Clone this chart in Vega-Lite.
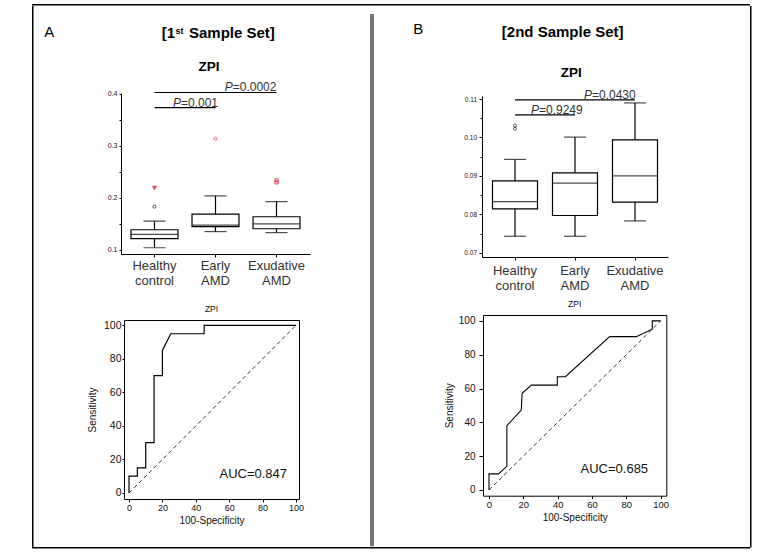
{
"$schema": "https://vega.github.io/schema/vega-lite/v6.json",
"background": "white",
"padding": {"left": 32, "top": 4, "right": 0, "bottom": 0},
"config": {
  "font": "Liberation Sans",
  "view": {"stroke": null},
  "axis": {"grid": false, "domainColor": "#000", "tickColor": "#000", "labelColor": "#111", "titleColor": "#111", "titleFontWeight": "normal", "labelOverlap": false}
},
"datasets": {
  "boxA": [
    {"group": "Healthy control", "lo": 0.104, "q1": 0.1215, "med": 0.1295, "q3": 0.1385, "hi": 0.155},
    {"group": "Early AMD", "lo": 0.135, "q1": 0.1445, "med": 0.1475, "q3": 0.1685, "hi": 0.2035},
    {"group": "Exudative AMD", "lo": 0.133, "q1": 0.1405, "med": 0.150, "q3": 0.1635, "hi": 0.1925}
  ],
  "boxB": [
    {"group": "Healthy control", "lo": 0.0743, "q1": 0.0814, "med": 0.0833, "q3": 0.0887, "hi": 0.0943},
    {"group": "Early AMD", "lo": 0.0743, "q1": 0.0797, "med": 0.0881, "q3": 0.0908, "hi": 0.1001},
    {"group": "Exudative AMD", "lo": 0.0783, "q1": 0.0832, "med": 0.0900, "q3": 0.0994, "hi": 0.1090}
  ],
  "rocA": [
    {"fpr": 0, "tpr": 0}, {"fpr": 0, "tpr": 10}, {"fpr": 5, "tpr": 10}, {"fpr": 5, "tpr": 15},
    {"fpr": 10, "tpr": 15}, {"fpr": 10, "tpr": 30}, {"fpr": 15, "tpr": 30}, {"fpr": 15, "tpr": 70},
    {"fpr": 20, "tpr": 70}, {"fpr": 20, "tpr": 85}, {"fpr": 25, "tpr": 95}, {"fpr": 45, "tpr": 95},
    {"fpr": 45, "tpr": 100}, {"fpr": 100, "tpr": 100}
  ],
  "rocB": [
    {"fpr": 0, "tpr": 0}, {"fpr": 0, "tpr": 9.5}, {"fpr": 5.5, "tpr": 9.5}, {"fpr": 10.4, "tpr": 14},
    {"fpr": 10.4, "tpr": 38}, {"fpr": 18.8, "tpr": 47.3}, {"fpr": 19.3, "tpr": 57.2}, {"fpr": 24.7, "tpr": 62},
    {"fpr": 39.8, "tpr": 62}, {"fpr": 39.8, "tpr": 67}, {"fpr": 44.5, "tpr": 67}, {"fpr": 70.3, "tpr": 90.7},
    {"fpr": 85.8, "tpr": 90.7}, {"fpr": 95.1, "tpr": 95.1}, {"fpr": 95.1, "tpr": 100}, {"fpr": 100, "tpr": 100}
  ],
  "diag": [{"fpr": 0, "tpr": 0}, {"fpr": 100, "tpr": 100}]
},
"bounds": "flush",
"spacing": 0,
"vconcat": [
  {"width": 718, "height": 1.5, "view": {"fill": "#000", "stroke": null}, "data": {"values": []}, "mark": "text"},
  {"bounds": "flush", "spacing": 0, "hconcat": [
    {"width": 1.5, "height": 541.5, "view": {"fill": "#000", "stroke": null}, "data": {"values": []}, "mark": "text"},
    {"width": 86.5, "height": 10, "data": {"values": []}, "mark": "text"},
    {"bounds": "flush", "spacing": 0, "vconcat": [
      {"width": 189, "height": 86.5, "layer": [
        {"data": {"values": [{"t": "A"}]}, "mark": {"type": "text", "fontSize": 15, "align": "center", "baseline": "alphabetic", "dx": -166.2, "dy": -12, "color": "#000"}, "encoding": {"text": {"field": "t"}}},
        {"data": {"values": [{"t": "[1"}]}, "mark": {"type": "text", "fontSize": 15, "fontWeight": "bold", "align": "right", "baseline": "alphabetic", "dx": -40.5, "dy": -11.75, "color": "#000"}, "encoding": {"text": {"field": "t"}}},
        {"data": {"values": [{"t": "st"}]}, "mark": {"type": "text", "fontSize": 9, "fontWeight": "bold", "align": "left", "baseline": "alphabetic", "dx": -40, "dy": -15.75, "color": "#000"}, "encoding": {"text": {"field": "t"}}},
        {"data": {"values": [{"t": "Sample Set]"}]}, "mark": {"type": "text", "fontSize": 15, "fontWeight": "bold", "align": "left", "baseline": "alphabetic", "dx": -26.5, "dy": -11.75, "color": "#000"}, "encoding": {"text": {"field": "t"}}},
        {"data": {"values": [{"t": "ZPI"}]}, "mark": {"type": "text", "fontSize": 13.5, "fontWeight": "bold", "align": "center", "baseline": "alphabetic", "dx": -6.5, "dy": 21.25, "color": "#000"}, "encoding": {"text": {"field": "t"}}}
      ]},
      {"width": 189, "height": 161, "resolve": {"axis": {"y": "independent"}}, "layer": [
        {"data": {"name": "boxA"}, "mark": {"type": "bar", "fill": "#fff", "stroke": "#000", "strokeWidth": 1.2}, "encoding": {"x": {"field": "group", "type": "nominal", "scale": {"type": "band", "domain": ["Healthy control", "Early AMD", "Exudative AMD"], "paddingInner": 0.23, "paddingOuter": 0.164}, "axis": {"title": null, "labelExpr": "split(datum.label, ' ')", "labelAngle": 0, "labelFontSize": 13, "labelColor": "#333", "labelLineHeight": 15, "tickSize": 3, "labelPadding": 2}}, "y": {"field": "q1", "type": "quantitative", "scale": {"domain": [0.092, 0.401], "nice": false, "zero": false}, "axis": {"orient": "left", "values": [0.1, 0.2, 0.3, 0.4], "format": ".1f", "labelFontSize": 7, "tickSize": 2, "labelPadding": 2, "title": null}}, "y2": {"field": "q3"}}},
        {"data": {"values": [{"v": 0.25}]}, "mark": {"type": "point", "opacity": 0}, "encoding": {"y": {"field": "v", "type": "quantitative", "scale": {"domain": [0.092, 0.401], "nice": false, "zero": false}, "axis": {"orient": "left", "values": [0.15, 0.25, 0.35], "labels": false, "domain": false, "tickSize": 2, "title": null}}}},
        {"data": {"name": "boxA"}, "mark": {"type": "rule", "color": "#000", "strokeWidth": 1.2}, "encoding": {"x": {"field": "group", "type": "nominal", "scale": {"type": "band", "domain": ["Healthy control", "Early AMD", "Exudative AMD"], "paddingInner": 0.23, "paddingOuter": 0.164}}, "y": {"field": "lo", "type": "quantitative", "scale": {"domain": [0.092, 0.401], "nice": false, "zero": false}, "axis": null}, "y2": {"field": "q1"}}},
        {"data": {"name": "boxA"}, "mark": {"type": "rule", "color": "#000", "strokeWidth": 1.2}, "encoding": {"x": {"field": "group", "type": "nominal", "scale": {"type": "band", "domain": ["Healthy control", "Early AMD", "Exudative AMD"], "paddingInner": 0.23, "paddingOuter": 0.164}}, "y": {"field": "q3", "type": "quantitative", "scale": {"domain": [0.092, 0.401], "nice": false, "zero": false}, "axis": null}, "y2": {"field": "hi"}}},
        {"data": {"name": "boxA"}, "mark": {"type": "tick", "color": "#000", "size": 47, "thickness": 1.2}, "encoding": {"x": {"field": "group", "type": "nominal", "scale": {"type": "band", "domain": ["Healthy control", "Early AMD", "Exudative AMD"], "paddingInner": 0.23, "paddingOuter": 0.164}}, "y": {"field": "med", "type": "quantitative", "scale": {"domain": [0.092, 0.401], "nice": false, "zero": false}, "axis": null}}},
        {"data": {"name": "boxA"}, "mark": {"type": "tick", "color": "#000", "size": 22, "thickness": 1.2}, "encoding": {"x": {"field": "group", "type": "nominal", "scale": {"type": "band", "domain": ["Healthy control", "Early AMD", "Exudative AMD"], "paddingInner": 0.23, "paddingOuter": 0.164}}, "y": {"field": "lo", "type": "quantitative", "scale": {"domain": [0.092, 0.401], "nice": false, "zero": false}, "axis": null}}},
        {"data": {"name": "boxA"}, "mark": {"type": "tick", "color": "#000", "size": 22, "thickness": 1.2}, "encoding": {"x": {"field": "group", "type": "nominal", "scale": {"type": "band", "domain": ["Healthy control", "Early AMD", "Exudative AMD"], "paddingInner": 0.23, "paddingOuter": 0.164}}, "y": {"field": "hi", "type": "quantitative", "scale": {"domain": [0.092, 0.401], "nice": false, "zero": false}, "axis": null}}},
        {"data": {"values": [{"group": "Healthy control", "v": 0.183}]}, "mark": {"type": "point", "shape": "circle", "filled": false, "color": "#000", "size": 10, "strokeWidth": 1}, "encoding": {"x": {"field": "group", "type": "nominal", "scale": {"type": "band", "domain": ["Healthy control", "Early AMD", "Exudative AMD"], "paddingInner": 0.23, "paddingOuter": 0.164}}, "y": {"field": "v", "type": "quantitative", "scale": {"domain": [0.092, 0.401], "nice": false, "zero": false}, "axis": null}}},
        {"data": {"values": [{"group": "Healthy control", "v": 0.2185}]}, "mark": {"type": "point", "shape": "triangle-down", "filled": true, "color": "#e0001b", "size": 30}, "encoding": {"x": {"field": "group", "type": "nominal", "scale": {"type": "band", "domain": ["Healthy control", "Early AMD", "Exudative AMD"], "paddingInner": 0.23, "paddingOuter": 0.164}}, "y": {"field": "v", "type": "quantitative", "scale": {"domain": [0.092, 0.401], "nice": false, "zero": false}, "axis": null}}},
        {"data": {"values": [{"group": "Early AMD", "v": 0.3135}]}, "mark": {"type": "point", "shape": "diamond", "filled": false, "color": "#e0001b", "size": 12, "strokeWidth": 1}, "encoding": {"x": {"field": "group", "type": "nominal", "scale": {"type": "band", "domain": ["Healthy control", "Early AMD", "Exudative AMD"], "paddingInner": 0.23, "paddingOuter": 0.164}}, "y": {"field": "v", "type": "quantitative", "scale": {"domain": [0.092, 0.401], "nice": false, "zero": false}, "axis": null}}},
        {"data": {"values": [{"group": "Exudative AMD", "v": 0.2335}, {"group": "Exudative AMD", "v": 0.2295}]}, "mark": {"type": "point", "shape": "square", "filled": false, "color": "#e0001b", "size": 10, "strokeWidth": 1}, "encoding": {"x": {"field": "group", "type": "nominal", "scale": {"type": "band", "domain": ["Healthy control", "Early AMD", "Exudative AMD"], "paddingInner": 0.23, "paddingOuter": 0.164}}, "y": {"field": "v", "type": "quantitative", "scale": {"domain": [0.092, 0.401], "nice": false, "zero": false}, "axis": null}}},
        {"data": {"values": [{"from": "Healthy control", "to": "Exudative AMD", "y": 0.402}, {"from": "Healthy control", "to": "Early AMD", "y": 0.373}]}, "mark": {"type": "rule", "color": "#000", "strokeWidth": 1.2}, "encoding": {"x": {"field": "from", "type": "nominal", "scale": {"type": "band", "domain": ["Healthy control", "Early AMD", "Exudative AMD"], "paddingInner": 0.23, "paddingOuter": 0.164}}, "x2": {"field": "to"}, "y": {"field": "y", "type": "quantitative", "scale": {"domain": [0.092, 0.401], "nice": false, "zero": false}, "axis": null}}},
        {"data": {"values": [{"to": "Exudative AMD", "y": 0.402, "t": "P"}]}, "mark": {"type": "text", "align": "right", "baseline": "alphabetic", "dx": -43.8, "dy": -1, "fontSize": 12, "fontStyle": "italic", "color": "#333"}, "encoding": {"x": {"field": "to", "type": "nominal", "scale": {"type": "band", "domain": ["Healthy control", "Early AMD", "Exudative AMD"], "paddingInner": 0.23, "paddingOuter": 0.164}}, "y": {"field": "y", "type": "quantitative", "scale": {"domain": [0.092, 0.401], "nice": false, "zero": false}, "axis": null}, "text": {"field": "t"}}},
        {"data": {"values": [{"to": "Exudative AMD", "y": 0.402, "t": "=0.0002"}]}, "mark": {"type": "text", "align": "left", "baseline": "alphabetic", "dx": -43.8, "dy": -1, "fontSize": 12, "color": "#333"}, "encoding": {"x": {"field": "to", "type": "nominal", "scale": {"type": "band", "domain": ["Healthy control", "Early AMD", "Exudative AMD"], "paddingInner": 0.23, "paddingOuter": 0.164}}, "y": {"field": "y", "type": "quantitative", "scale": {"domain": [0.092, 0.401], "nice": false, "zero": false}, "axis": null}, "text": {"field": "t"}}},
        {"data": {"values": [{"to": "Early AMD", "y": 0.373, "t": "P"}]}, "mark": {"type": "text", "align": "right", "baseline": "alphabetic", "dx": -34.5, "dy": -1, "fontSize": 12, "fontStyle": "italic", "color": "#333"}, "encoding": {"x": {"field": "to", "type": "nominal", "scale": {"type": "band", "domain": ["Healthy control", "Early AMD", "Exudative AMD"], "paddingInner": 0.23, "paddingOuter": 0.164}}, "y": {"field": "y", "type": "quantitative", "scale": {"domain": [0.092, 0.401], "nice": false, "zero": false}, "axis": null}, "text": {"field": "t"}}},
        {"data": {"values": [{"to": "Early AMD", "y": 0.373, "t": "=0.001"}]}, "mark": {"type": "text", "align": "left", "baseline": "alphabetic", "dx": -34.5, "dy": -1, "fontSize": 12, "color": "#333"}, "encoding": {"x": {"field": "to", "type": "nominal", "scale": {"type": "band", "domain": ["Healthy control", "Early AMD", "Exudative AMD"], "paddingInner": 0.23, "paddingOuter": 0.164}}, "y": {"field": "y", "type": "quantitative", "scale": {"domain": [0.092, 0.401], "nice": false, "zero": false}, "axis": null}, "text": {"field": "t"}}}
      ]},
      {"width": 189, "height": 66, "data": {"values": []}, "mark": "text"},
      {"bounds": "flush", "spacing": 0, "hconcat": [
        {"width": 3, "height": 10, "data": {"values": []}, "mark": "text"},
        {"width": 175, "height": 179, "view": {"stroke": "#000", "strokeWidth": 1}, "title": {"text": "ZPI", "fontSize": 8.5, "fontWeight": "normal", "offset": 7, "anchor": "middle", "color": "#111"}, "layer": [
          {"data": {"name": "diag"}, "mark": {"type": "line", "color": "#000", "strokeWidth": 0.8, "strokeDash": [4, 3]}, "encoding": {"x": {"field": "fpr", "type": "quantitative", "scale": {"domain": [-3, 101.8], "nice": false, "zero": false}, "axis": {"values": [0, 20, 40, 60, 80, 100], "tickCount": 6, "title": "100-Specificity", "titleFontSize": 10, "titlePadding": 3, "labelFontSize": 9, "tickSize": 3, "labelPadding": 1, "domain": false, "labelOverlap": false}}, "y": {"field": "tpr", "type": "quantitative", "scale": {"domain": [-3.6, 103.2], "nice": false, "zero": false}, "axis": {"values": [0, 20, 40, 60, 80, 100], "tickCount": 6, "title": "Sensitivity", "titleFontSize": 10, "titlePadding": 6, "labelFontSize": 10.5, "tickSize": 2, "labelPadding": 1, "domain": false, "labelOverlap": false}}}},
          {"data": {"name": "rocA"}, "mark": {"type": "line", "color": "#000", "strokeWidth": 1.2}, "encoding": {"x": {"field": "fpr", "type": "quantitative", "scale": {"domain": [-3, 101.8], "nice": false, "zero": false}, "axis": {"values": [0, 20, 40, 60, 80, 100], "tickCount": 6, "title": "100-Specificity", "titleFontSize": 10, "titlePadding": 3, "labelFontSize": 9, "tickSize": 3, "labelPadding": 1, "domain": false, "labelOverlap": false}}, "y": {"field": "tpr", "type": "quantitative", "scale": {"domain": [-3.6, 103.2], "nice": false, "zero": false}, "axis": {"values": [0, 20, 40, 60, 80, 100], "tickCount": 6, "title": "Sensitivity", "titleFontSize": 10, "titlePadding": 6, "labelFontSize": 10.5, "tickSize": 2, "labelPadding": 1, "domain": false, "labelOverlap": false}}, "order": {"value": null}}},
          {"data": {"values": [{"t": "AUC=0.847"}]}, "mark": {"type": "text", "fontSize": 13, "align": "center", "baseline": "alphabetic", "color": "#111"}, "encoding": {"x": {"datum": 74.4, "type": "quantitative", "scale": {"domain": [-3, 101.8], "nice": false, "zero": false}, "axis": {"values": [0, 20, 40, 60, 80, 100], "tickCount": 6, "title": "100-Specificity", "titleFontSize": 10, "titlePadding": 3, "labelFontSize": 9, "tickSize": 3, "labelPadding": 1, "domain": false, "labelOverlap": false}}, "y": {"datum": 9, "type": "quantitative", "scale": {"domain": [-3.6, 103.2], "nice": false, "zero": false}, "axis": {"values": [0, 20, 40, 60, 80, 100], "tickCount": 6, "title": "Sensitivity", "titleFontSize": 10, "titlePadding": 6, "labelFontSize": 10.5, "tickSize": 2, "labelPadding": 1, "domain": false, "labelOverlap": false}}, "text": {"field": "t"}}}
        ]}
      ]}
    ]},
    {"width": 249, "height": 10, "data": {"values": []}, "mark": "text"},
    {"bounds": "flush", "spacing": 0, "vconcat": [
      {"width": 4, "height": 7.2, "data": {"values": []}, "mark": "text"},
      {"width": 4, "height": 532.3, "view": {"fill": "#777", "stroke": null}, "data": {"values": []}, "mark": "text"}
    ]},
    {"width": 112, "height": 10, "data": {"values": []}, "mark": "text"},
    {"bounds": "flush", "spacing": 0, "vconcat": [
      {"width": 186, "height": 89.5, "layer": [
        {"data": {"values": [{"t": "B"}]}, "mark": {"type": "text", "fontSize": 15, "align": "center", "baseline": "alphabetic", "dx": -156.8, "dy": -16.5, "color": "#000"}, "encoding": {"text": {"field": "t"}}},
        {"data": {"values": [{"t": "[2nd Sample Set]"}]}, "mark": {"type": "text", "fontSize": 15, "fontWeight": "bold", "align": "center", "baseline": "alphabetic", "dx": -12.3, "dy": -14.25, "color": "#000"}, "encoding": {"text": {"field": "t"}}},
        {"data": {"values": [{"t": "ZPI"}]}, "mark": {"type": "text", "fontSize": 13.5, "fontWeight": "bold", "align": "center", "baseline": "alphabetic", "dx": -3.7, "dy": 26.5, "color": "#000"}, "encoding": {"text": {"field": "t"}}}
      ]},
      {"width": 186, "height": 161, "resolve": {"axis": {"y": "independent"}}, "layer": [
        {"data": {"name": "boxB"}, "mark": {"type": "bar", "fill": "#fff", "stroke": "#000", "strokeWidth": 1.2}, "encoding": {"x": {"field": "group", "type": "nominal", "scale": {"type": "band", "domain": ["Healthy control", "Early AMD", "Exudative AMD"], "paddingInner": 0.25, "paddingOuter": 0.175}, "axis": {"title": null, "labelExpr": "split(datum.label, ' ')", "labelAngle": 0, "labelFontSize": 13, "labelColor": "#333", "labelLineHeight": 15, "tickSize": 3, "labelPadding": 4}}, "y": {"field": "q1", "type": "quantitative", "scale": {"domain": [0.0689, 0.1108], "nice": false, "zero": false}, "axis": {"orient": "left", "values": [0.07, 0.08, 0.09, 0.10, 0.11], "format": ".2f", "labelFontSize": 6.5, "tickSize": 3, "labelPadding": 2.5, "title": null}}, "y2": {"field": "q3"}}},
        {"data": {"values": [{"v": 0.09}]}, "mark": {"type": "point", "opacity": 0}, "encoding": {"y": {"field": "v", "type": "quantitative", "scale": {"domain": [0.0689, 0.1108], "nice": false, "zero": false}, "axis": {"orient": "left", "values": [0.075, 0.085, 0.095, 0.105], "labels": false, "domain": false, "tickSize": 2, "title": null}}}},
        {"data": {"name": "boxB"}, "mark": {"type": "rule", "color": "#000", "strokeWidth": 1.2}, "encoding": {"x": {"field": "group", "type": "nominal", "scale": {"type": "band", "domain": ["Healthy control", "Early AMD", "Exudative AMD"], "paddingInner": 0.25, "paddingOuter": 0.175}}, "y": {"field": "lo", "type": "quantitative", "scale": {"domain": [0.0689, 0.1108], "nice": false, "zero": false}, "axis": null}, "y2": {"field": "q1"}}},
        {"data": {"name": "boxB"}, "mark": {"type": "rule", "color": "#000", "strokeWidth": 1.2}, "encoding": {"x": {"field": "group", "type": "nominal", "scale": {"type": "band", "domain": ["Healthy control", "Early AMD", "Exudative AMD"], "paddingInner": 0.25, "paddingOuter": 0.175}}, "y": {"field": "q3", "type": "quantitative", "scale": {"domain": [0.0689, 0.1108], "nice": false, "zero": false}, "axis": null}, "y2": {"field": "hi"}}},
        {"data": {"name": "boxB"}, "mark": {"type": "tick", "color": "#000", "size": 45, "thickness": 1.2}, "encoding": {"x": {"field": "group", "type": "nominal", "scale": {"type": "band", "domain": ["Healthy control", "Early AMD", "Exudative AMD"], "paddingInner": 0.25, "paddingOuter": 0.175}}, "y": {"field": "med", "type": "quantitative", "scale": {"domain": [0.0689, 0.1108], "nice": false, "zero": false}, "axis": null}}},
        {"data": {"name": "boxB"}, "mark": {"type": "tick", "color": "#000", "size": 22, "thickness": 1.2}, "encoding": {"x": {"field": "group", "type": "nominal", "scale": {"type": "band", "domain": ["Healthy control", "Early AMD", "Exudative AMD"], "paddingInner": 0.25, "paddingOuter": 0.175}}, "y": {"field": "lo", "type": "quantitative", "scale": {"domain": [0.0689, 0.1108], "nice": false, "zero": false}, "axis": null}}},
        {"data": {"name": "boxB"}, "mark": {"type": "tick", "color": "#000", "size": 22, "thickness": 1.2}, "encoding": {"x": {"field": "group", "type": "nominal", "scale": {"type": "band", "domain": ["Healthy control", "Early AMD", "Exudative AMD"], "paddingInner": 0.25, "paddingOuter": 0.175}}, "y": {"field": "hi", "type": "quantitative", "scale": {"domain": [0.0689, 0.1108], "nice": false, "zero": false}, "axis": null}}},
        {"data": {"values": [{"group": "Healthy control", "v": 0.1031}, {"group": "Healthy control", "v": 0.1023}]}, "mark": {"type": "point", "shape": "circle", "filled": false, "color": "#000", "size": 9, "strokeWidth": 0.9}, "encoding": {"x": {"field": "group", "type": "nominal", "scale": {"type": "band", "domain": ["Healthy control", "Early AMD", "Exudative AMD"], "paddingInner": 0.25, "paddingOuter": 0.175}}, "y": {"field": "v", "type": "quantitative", "scale": {"domain": [0.0689, 0.1108], "nice": false, "zero": false}, "axis": null}}},
        {"data": {"values": [{"from": "Healthy control", "to": "Exudative AMD", "y": 0.1098}, {"from": "Healthy control", "to": "Early AMD", "y": 0.1059}]}, "mark": {"type": "rule", "color": "#000", "strokeWidth": 1.2}, "encoding": {"x": {"field": "from", "type": "nominal", "scale": {"type": "band", "domain": ["Healthy control", "Early AMD", "Exudative AMD"], "paddingInner": 0.25, "paddingOuter": 0.175}}, "x2": {"field": "to"}, "y": {"field": "y", "type": "quantitative", "scale": {"domain": [0.0689, 0.1108], "nice": false, "zero": false}, "axis": null}}},
        {"data": {"values": [{"to": "Exudative AMD", "y": 0.1098, "t": "P"}]}, "mark": {"type": "text", "align": "right", "baseline": "alphabetic", "dx": -43, "dy": -1, "fontSize": 12, "fontStyle": "italic", "color": "#333"}, "encoding": {"x": {"field": "to", "type": "nominal", "scale": {"type": "band", "domain": ["Healthy control", "Early AMD", "Exudative AMD"], "paddingInner": 0.25, "paddingOuter": 0.175}}, "y": {"field": "y", "type": "quantitative", "scale": {"domain": [0.0689, 0.1108], "nice": false, "zero": false}, "axis": null}, "text": {"field": "t"}}},
        {"data": {"values": [{"to": "Exudative AMD", "y": 0.1098, "t": "=0.0430"}]}, "mark": {"type": "text", "align": "left", "baseline": "alphabetic", "dx": -43, "dy": -1, "fontSize": 12, "color": "#333"}, "encoding": {"x": {"field": "to", "type": "nominal", "scale": {"type": "band", "domain": ["Healthy control", "Early AMD", "Exudative AMD"], "paddingInner": 0.25, "paddingOuter": 0.175}}, "y": {"field": "y", "type": "quantitative", "scale": {"domain": [0.0689, 0.1108], "nice": false, "zero": false}, "axis": null}, "text": {"field": "t"}}},
        {"data": {"values": [{"to": "Early AMD", "y": 0.1059, "t": "P"}]}, "mark": {"type": "text", "align": "right", "baseline": "alphabetic", "dx": -36, "dy": -1, "fontSize": 12, "fontStyle": "italic", "color": "#333"}, "encoding": {"x": {"field": "to", "type": "nominal", "scale": {"type": "band", "domain": ["Healthy control", "Early AMD", "Exudative AMD"], "paddingInner": 0.25, "paddingOuter": 0.175}}, "y": {"field": "y", "type": "quantitative", "scale": {"domain": [0.0689, 0.1108], "nice": false, "zero": false}, "axis": null}, "text": {"field": "t"}}},
        {"data": {"values": [{"to": "Early AMD", "y": 0.1059, "t": "=0.9249"}]}, "mark": {"type": "text", "align": "left", "baseline": "alphabetic", "dx": -36, "dy": -1, "fontSize": 12, "color": "#333"}, "encoding": {"x": {"field": "to", "type": "nominal", "scale": {"type": "band", "domain": ["Healthy control", "Early AMD", "Exudative AMD"], "paddingInner": 0.25, "paddingOuter": 0.175}}, "y": {"field": "y", "type": "quantitative", "scale": {"domain": [0.0689, 0.1108], "nice": false, "zero": false}, "axis": null}, "text": {"field": "t"}}}
      ]},
      {"width": 186, "height": 57.3, "data": {"values": []}, "mark": "text"},
      {"bounds": "flush", "spacing": 0, "hconcat": [
        {"width": 1, "height": 10, "data": {"values": []}, "mark": "text"},
        {"width": 183.3, "height": 180.7, "view": {"stroke": "#000", "strokeWidth": 1}, "title": {"text": "ZPI", "fontSize": 8.5, "fontWeight": "normal", "offset": 7, "anchor": "middle", "color": "#111"}, "layer": [
          {"data": {"name": "diag"}, "mark": {"type": "line", "color": "#000", "strokeWidth": 0.8, "strokeDash": [4, 3]}, "encoding": {"x": {"field": "fpr", "type": "quantitative", "scale": {"domain": [-3.5, 103.3], "nice": false, "zero": false}, "axis": {"values": [0, 20, 40, 60, 80, 100], "tickCount": 6, "title": "100-Specificity", "titleFontSize": 10, "titlePadding": 3, "labelFontSize": 9.5, "tickSize": 3, "labelPadding": 1, "domain": false, "labelOverlap": false}}, "y": {"field": "tpr", "type": "quantitative", "scale": {"domain": [-3.4, 103.5], "nice": false, "zero": false}, "axis": {"values": [0, 20, 40, 60, 80, 100], "tickCount": 6, "title": "Sensitivity", "titleFontSize": 10, "titlePadding": 4, "labelFontSize": 10, "tickSize": 4, "labelPadding": 4, "domain": false, "labelOverlap": false}}}},
          {"data": {"name": "rocB"}, "mark": {"type": "line", "color": "#000", "strokeWidth": 1.1}, "encoding": {"x": {"field": "fpr", "type": "quantitative", "scale": {"domain": [-3.5, 103.3], "nice": false, "zero": false}, "axis": {"values": [0, 20, 40, 60, 80, 100], "tickCount": 6, "title": "100-Specificity", "titleFontSize": 10, "titlePadding": 3, "labelFontSize": 9.5, "tickSize": 3, "labelPadding": 1, "domain": false, "labelOverlap": false}}, "y": {"field": "tpr", "type": "quantitative", "scale": {"domain": [-3.4, 103.5], "nice": false, "zero": false}, "axis": {"values": [0, 20, 40, 60, 80, 100], "tickCount": 6, "title": "Sensitivity", "titleFontSize": 10, "titlePadding": 4, "labelFontSize": 10, "tickSize": 4, "labelPadding": 4, "domain": false, "labelOverlap": false}}, "order": {"value": null}}},
          {"data": {"values": [{"t": "AUC=0.685"}]}, "mark": {"type": "text", "fontSize": 13, "align": "center", "baseline": "alphabetic", "color": "#111"}, "encoding": {"x": {"datum": 73, "type": "quantitative", "scale": {"domain": [-3.5, 103.3], "nice": false, "zero": false}, "axis": {"values": [0, 20, 40, 60, 80, 100], "tickCount": 6, "title": "100-Specificity", "titleFontSize": 10, "titlePadding": 3, "labelFontSize": 9.5, "tickSize": 3, "labelPadding": 1, "domain": false, "labelOverlap": false}}, "y": {"datum": 9.8, "type": "quantitative", "scale": {"domain": [-3.4, 103.5], "nice": false, "zero": false}, "axis": {"values": [0, 20, 40, 60, 80, 100], "tickCount": 6, "title": "Sensitivity", "titleFontSize": 10, "titlePadding": 4, "labelFontSize": 10, "tickSize": 4, "labelPadding": 4, "domain": false, "labelOverlap": false}}, "text": {"field": "t"}}}
        ]}
      ]}
    ]},
    {"width": 267.5, "height": 10, "data": {"values": []}, "mark": "text"},
    {"width": 1.5, "height": 541.5, "view": {"fill": "#000", "stroke": null}, "data": {"values": []}, "mark": "text"}
  ]},
  {"width": 718, "height": 541, "data": {"values": []}, "mark": "text"},
  {"width": 718, "height": 1.5, "view": {"fill": "#000", "stroke": null}, "data": {"values": []}, "mark": "text"}
]
}
